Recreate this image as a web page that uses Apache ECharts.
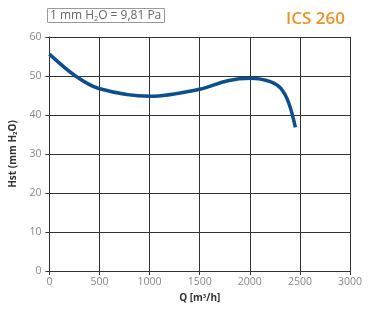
<!DOCTYPE html>
<html><head><meta charset="utf-8">
<script src="https://cdn.jsdelivr.net/npm/echarts@6/dist/echarts.min.js"></script>
<style>html,body{margin:0;padding:0;background:#fff}#c{width:372px;height:322px}</style>
</head><body><div id="c"></div>
<script>
const flowQ = [0, 260, 492, 1000, 1500, 1780, 2010, 2210, 2310, 2390, 2455];
const pressureH = [55.6, 50.0, 46.8, 44.8, 46.6, 48.8, 49.4, 48.5, 46.8, 43.0, 36.8];
const xTicks = [0, 500, 1000, 1500, 2000, 2500, 3000];
const yTicks = [0, 10, 20, 30, 40, 50, 60];

const chart = echarts.init(document.getElementById('c'));
const fontF = '"Open Sans", "Noto Sans", sans-serif';
chart.setOption({
  animation: false,
  title: [
    {text: 'ICS 260', right: 22, top: 6, textStyle: {color: '#E8922A', fontSize: 17, fontWeight: 600, fontFamily: fontF}},
    {text: '{a|1 mm H}{s|2}{a|O = 9,81 Pa}', left: 47, top: 8, padding: [1, 3, 1, 3],
     borderColor: '#999', borderWidth: 1,
     textStyle: {fontWeight: 'normal', rich: {a: {fontSize: 12, fontWeight: 'normal', color: '#666', fontFamily: fontF}, s: {fontSize: 7, fontWeight: 'normal', color: '#666', verticalAlign: 'bottom', padding: [6, 0, 0, 0], fontFamily: fontF}}}}
  ],
  grid: {left: 47, right: 22, top: 37, bottom: 51},
  xAxis: {
    type: 'value', min: xTicks[0], max: xTicks[xTicks.length - 1], interval: 500,
    name: '{b|Q [m}{s|3}{b|/h]}', nameLocation: 'middle', nameGap: 20,
    nameTextStyle: {rich: {b: {fontSize: 10, fontWeight: 'bold', color: '#333', fontFamily: fontF}, s: {fontSize: 6, fontWeight: 'bold', color: '#333', verticalAlign: 'top', padding: [0, 0, 5, 0], fontFamily: fontF}}},
    axisLine: {lineStyle: {color: '#333', width: 1}},
    axisTick: {show: true, length: 4, inside: false, lineStyle: {color: '#333'}},
    axisLabel: {color: '#888', fontSize: 10.5, margin: 6, fontFamily: fontF, formatter: v => String(v)},
    splitLine: {show: true, lineStyle: {color: '#333', width: 1}}
  },
  yAxis: {
    type: 'value', min: yTicks[0], max: yTicks[yTicks.length - 1], interval: 10,
    name: '{b|Hst (mm H}{s|2}{b|O)}', nameLocation: 'middle', nameGap: 30, nameRotate: 90,
    nameTextStyle: {rich: {b: {fontSize: 10, fontWeight: 'bold', color: '#333', fontFamily: fontF}, s: {fontSize: 6, fontWeight: 'bold', color: '#333', verticalAlign: 'bottom', padding: [5, 0, 0, 0], fontFamily: fontF}}},
    axisLine: {show: true, lineStyle: {color: '#333', width: 1}},
    axisTick: {show: true, length: 4, lineStyle: {color: '#333'}},
    axisLabel: {color: '#888', fontSize: 10.5, margin: 8, fontFamily: fontF, formatter: v => String(v)},
    splitLine: {show: true, lineStyle: {color: '#333', width: 1}}
  },
  series: [{
    type: 'line', smooth: 0.35, symbol: 'none',
    data: flowQ.map((q, i) => [q, pressureH[i]]),
    lineStyle: {color: '#0D4F8B', width: 3.5}
  }]
});
</script></body></html>
